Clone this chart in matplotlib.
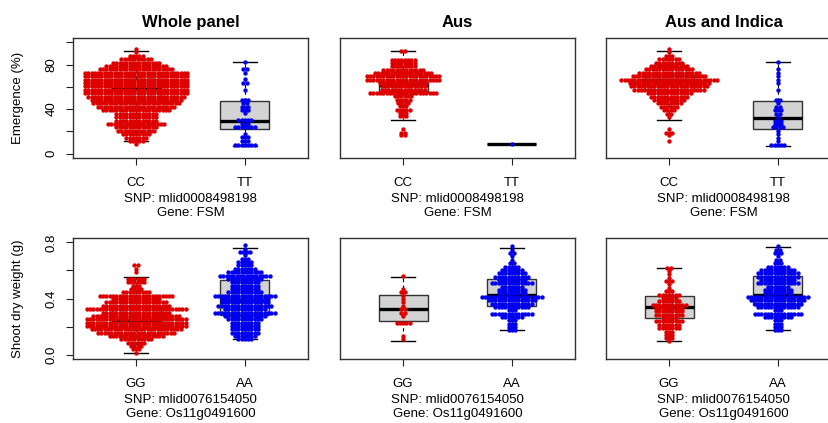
import numpy as np
import matplotlib.pyplot as plt

plt.rcParams['font.family'] = ['Liberation Sans', 'DejaVu Sans']

# ---- Emergence (%) : SNP mlid0008498198, gene FSM ----
# beeswarm rows: binned value and number of dots on that row
wp_cc_vals = [94.2, 91.1, 88.1, 85.0, 81.9, 78.9, 75.8, 72.7, 69.6, 66.6, 63.5, 60.4, 57.4, 54.3, 51.2,
              48.2, 45.1, 42.0, 38.9, 35.9, 32.8, 29.7, 26.7, 23.6, 20.5, 17.5, 14.4, 11.3, 8.3]
wp_cc_counts = [1, 1, 5, 10, 15, 19, 23, 32, 32, 32, 32, 32, 32, 32, 30,
                28, 27, 24, 21, 13, 13, 13, 18, 13, 12, 9, 7, 5, 1]
wp_tt_vals = [82.1, 76.0, 72.9, 66.8, 63.8, 57.6, 48.4, 45.3, 42.2, 39.2, 36.1, 30.0, 26.9, 23.8,
              17.7, 14.7, 11.6, 7.5]
wp_tt_counts = [1, 2, 1, 1, 2, 1, 3, 2, 3, 3, 1, 5, 3, 7, 1, 3, 3, 7]

aus_cc_vals = [92.0, 84.5, 81.5, 78.5, 75.5, 72.5, 69.4, 66.4, 63.4, 60.4, 57.4, 54.4, 51.4, 48.4,
               45.4, 42.4, 39.4, 36.4, 33.4, 21.7, 18.7, 16.3]
aus_cc_counts = [2, 8, 8, 8, 13, 18, 23, 23, 15, 14, 14, 21, 6, 5, 4, 3, 5, 3, 3, 1, 2, 2]
aus_tt_vals = [8.4]
aus_tt_counts = [1]

ai_cc_vals = [94.2, 91.1, 88.1, 85.0, 81.9, 78.9, 75.8, 72.7, 69.6, 66.6, 63.5, 60.4, 57.4, 54.3,
              51.2, 48.2, 45.1, 42.0, 38.9, 35.9, 32.8, 21.7, 18.7, 16.3, 11.4]
ai_cc_counts = [1, 1, 3, 7, 9, 12, 15, 19, 23, 30, 25, 24, 22, 14, 12, 10, 8, 6, 4, 2, 1, 1, 3, 1, 1]
ai_tt_vals = [82.1, 75.8, 72.7, 69.6, 66.6, 63.5, 57.4, 48.2, 45.1, 42.0, 38.9, 35.9, 32.8, 29.7,
              26.7, 23.6, 20.5, 17.5, 14.4, 11.3, 7.5]
ai_tt_counts = [1, 1, 1, 1, 1, 1, 1, 2, 1, 2, 3, 2, 1, 3, 3, 4, 1, 1, 1, 1, 5]

# ---- Shoot dry weight (g) : SNP mlid0076154050, gene Os11g0491600 ----
wp_gg_vals = [0.636, 0.612, 0.588, 0.540, 0.516, 0.492, 0.468, 0.444, 0.420, 0.396, 0.372, 0.348,
              0.324, 0.300, 0.276, 0.252, 0.228, 0.204, 0.180, 0.156, 0.132, 0.108, 0.084, 0.060,
              0.036, 0.012]
wp_gg_counts = [2, 1, 1, 6, 6, 3, 4, 9, 23, 15, 19, 21, 31, 21, 27, 31, 31, 31, 28, 24, 17, 10, 6, 4, 3, 1]
wp_aa_vals = [0.780, 0.756, 0.732, 0.708, 0.684, 0.660, 0.636, 0.612, 0.588, 0.564, 0.540, 0.516,
              0.492, 0.468, 0.444, 0.420, 0.396, 0.372, 0.348, 0.324, 0.300, 0.276, 0.252, 0.228,
              0.204, 0.180, 0.156, 0.132, 0.108]
wp_aa_counts = [1, 1, 4, 1, 3, 5, 5, 7, 11, 16, 11, 9, 9, 9, 11, 19, 15, 15, 17, 13, 19, 13, 11, 9,
                9, 9, 9, 7, 5]

aus_gg_vals = [0.564, 0.468, 0.444, 0.420, 0.396, 0.372, 0.348, 0.324, 0.300, 0.276, 0.228, 0.132, 0.108]
aus_gg_counts = [1, 1, 2, 1, 1, 1, 1, 2, 2, 1, 5, 1, 1]
aus_aa_vals = [0.772, 0.748, 0.724, 0.700, 0.676, 0.652, 0.628, 0.604, 0.580, 0.556, 0.532, 0.508,
               0.484, 0.460, 0.436, 0.412, 0.388, 0.364, 0.340, 0.316, 0.292, 0.268, 0.244, 0.220,
               0.196, 0.172]
aus_aa_counts = [1, 1, 2, 1, 1, 2, 5, 7, 9, 11, 9, 13, 7, 9, 9, 19, 15, 13, 11, 3, 13, 7, 3, 3, 3, 3]

ai_gg_vals = [0.620, 0.596, 0.572, 0.548, 0.524, 0.500, 0.476, 0.452, 0.428, 0.404, 0.380, 0.356,
              0.332, 0.308, 0.284, 0.260, 0.236, 0.212, 0.188, 0.164, 0.140, 0.116, 0.100]
ai_gg_counts = [2, 1, 1, 1, 3, 1, 1, 3, 7, 5, 7, 11, 9, 9, 9, 5, 9, 7, 7, 3, 3, 3, 1]
ai_aa_vals = [0.772, 0.748, 0.724, 0.700, 0.676, 0.652, 0.628, 0.604, 0.580, 0.556, 0.532, 0.508,
              0.484, 0.460, 0.436, 0.412, 0.388, 0.364, 0.340, 0.316, 0.292, 0.268, 0.244, 0.220,
              0.196, 0.172]
ai_aa_counts = [1, 2, 3, 1, 2, 3, 7, 11, 13, 13, 11, 13, 7, 9, 9, 19, 17, 15, 13, 3, 15, 9, 3, 3, 3, 3]

# box statistics: lower whisker, Q1, median, Q3, upper whisker
wp_cc_box = [11.4, 45.3, 58.2, 67.0, 92.7]
wp_tt_box = [7.0, 22.0, 29.2, 47.1, 82.0]
aus_cc_box = [30.2, 55.8, 62.0, 64.5, 92.0]
aus_tt_box = [8.4, 8.4, 8.4, 8.4, 8.4]
ai_cc_box = [30.2, 57.0, 65.8, 71.0, 92.5]
ai_tt_box = [6.6, 22.0, 31.7, 47.1, 82.1]
wp_gg_box = [0.012, 0.187, 0.249, 0.343, 0.554]
wp_aa_box = [0.113, 0.282, 0.390, 0.530, 0.764]
aus_gg_box = [0.100, 0.237, 0.326, 0.427, 0.552]
aus_aa_box = [0.178, 0.346, 0.425, 0.542, 0.764]
ai_gg_box = [0.100, 0.263, 0.338, 0.418, 0.617]
ai_aa_box = [0.178, 0.355, 0.427, 0.560, 0.768]

titles = ['Whole panel', 'Aus', 'Aus and Indica']
top_genotypes = ['CC', 'TT']
bottom_genotypes = ['GG', 'AA']
top_xlab = ['SNP: mlid0008498198', 'Gene: FSM']
bottom_xlab = ['SNP: mlid0076154050', 'Gene: Os11g0491600']

RED = '#dd0000'
BLUE = '#0000ee'

top_groups = [
    [(wp_cc_vals, wp_cc_counts, wp_cc_box), (wp_tt_vals, wp_tt_counts, wp_tt_box)],
    [(aus_cc_vals, aus_cc_counts, aus_cc_box), (aus_tt_vals, aus_tt_counts, aus_tt_box)],
    [(ai_cc_vals, ai_cc_counts, ai_cc_box), (ai_tt_vals, ai_tt_counts, ai_tt_box)],
]
bottom_groups = [
    [(wp_gg_vals, wp_gg_counts, wp_gg_box), (wp_aa_vals, wp_aa_counts, wp_aa_box)],
    [(aus_gg_vals, aus_gg_counts, aus_gg_box), (aus_aa_vals, aus_aa_counts, aus_aa_box)],
    [(ai_gg_vals, ai_gg_counts, ai_gg_box), (ai_aa_vals, ai_aa_counts, ai_aa_box)],
]

W, H = 829, 423
fig = plt.figure(figsize=(W / 100, H / 100), dpi=100)

col_left = [73, 340, 606]
ax_w = 235
rows = [(38, 158), (238, 359)]
XLIM = (0.42, 2.58)
DX = 3.3 / (ax_w / (XLIM[1] - XLIM[0]))  # dot pitch in x data units


def swarm(ax, pos, vals, counts, color):
    xs, ys = [], []
    for v, n in zip(vals, counts):
        off = (np.arange(n) - (n - 1) / 2) * DX
        xs.extend(pos + off)
        ys.extend([v] * n)
    ax.scatter(xs, ys, s=10, color=color, linewidths=0, zorder=4)


def draw_panel(ax, groups, ylim, yticks, yticklabels, genotypes, first):
    stats = []
    for vals, counts, b in groups:
        stats.append(dict(whislo=b[0], q1=b[1], med=b[2], q3=b[3], whishi=b[4]))
    ax.bxp(stats, positions=[1, 2], widths=0.45, patch_artist=True, showfliers=False,
           capwidths=0.225,
           boxprops=dict(facecolor='#d3d3d3', edgecolor='#333333', linewidth=1.0),
           medianprops=dict(color='black', linewidth=2.4, solid_capstyle='butt'),
           whiskerprops=dict(color='black', linewidth=0.8, linestyle=(0, (3, 3))),
           capprops=dict(color='black', linewidth=1.0))
    for (vals, counts, b), pos, col in zip(groups, [1, 2], [RED, BLUE]):
        swarm(ax, pos, vals, counts, col)

    ax.set_xlim(*XLIM)
    lo, hi = ylim
    pad = (hi - lo) * 0.04
    ax.set_ylim(lo - pad, hi + pad)
    ax.set_xticks([1, 2])
    ax.set_xticklabels(genotypes, fontsize=9.5)
    ax.tick_params(axis='x', length=5, width=0.8, pad=9, colors='#222222', labelcolor='black')
    if first:
        ax.set_yticks(yticks)
        ax.set_yticklabels(yticklabels, fontsize=9.5, rotation=90, va='center')
        ax.tick_params(axis='y', length=5, width=0.8, pad=6, colors='#222222', labelcolor='black')
    else:
        ax.set_yticks([])
    for sp in ax.spines.values():
        sp.set_linewidth(1.0)
        sp.set_color('#333333')


for r, (groups_row, genotypes, xlab, ylim, yticks, yticklabels, ylabel) in enumerate([
        (top_groups, top_genotypes, top_xlab, (0, 100), [0, 20, 40, 60, 80, 100],
         ['0', '', '40', '', '80', ''], 'Emergence (%)'),
        (bottom_groups, bottom_genotypes, bottom_xlab, (0, 0.8), [0, 0.2, 0.4, 0.6, 0.8],
         ['0.0', '', '0.4', '', '0.8'], 'Shoot dry weight (g)')]):
    top_px, bot_px = rows[r]
    for c in range(3):
        ax = fig.add_axes([col_left[c] / W, 1 - bot_px / H, ax_w / W, (bot_px - top_px) / H])
        draw_panel(ax, groups_row[c], ylim, yticks, yticklabels, genotypes, c == 0)
        cx = (col_left[c] + ax_w / 2) / W
        # two-line x axis caption below the genotype labels
        fig.text(cx, 1 - (bot_px + 41.3) / H, xlab[0], fontsize=9.5, ha='center', va='center')
        fig.text(cx, 1 - (bot_px + 55.3) / H, xlab[1], fontsize=9.5, ha='center', va='center')
        if r == 0:
            fig.text(cx, 1 - 22.7 / H, titles[c], fontsize=12, fontweight='bold',
                     ha='center', va='center')
        if c == 0:
            fig.text(18 / W, 1 - (top_px + bot_px) / 2 / H, ylabel, fontsize=9.5,
                     rotation=90, ha='center', va='center')

fig.savefig('out.png', dpi=100)
